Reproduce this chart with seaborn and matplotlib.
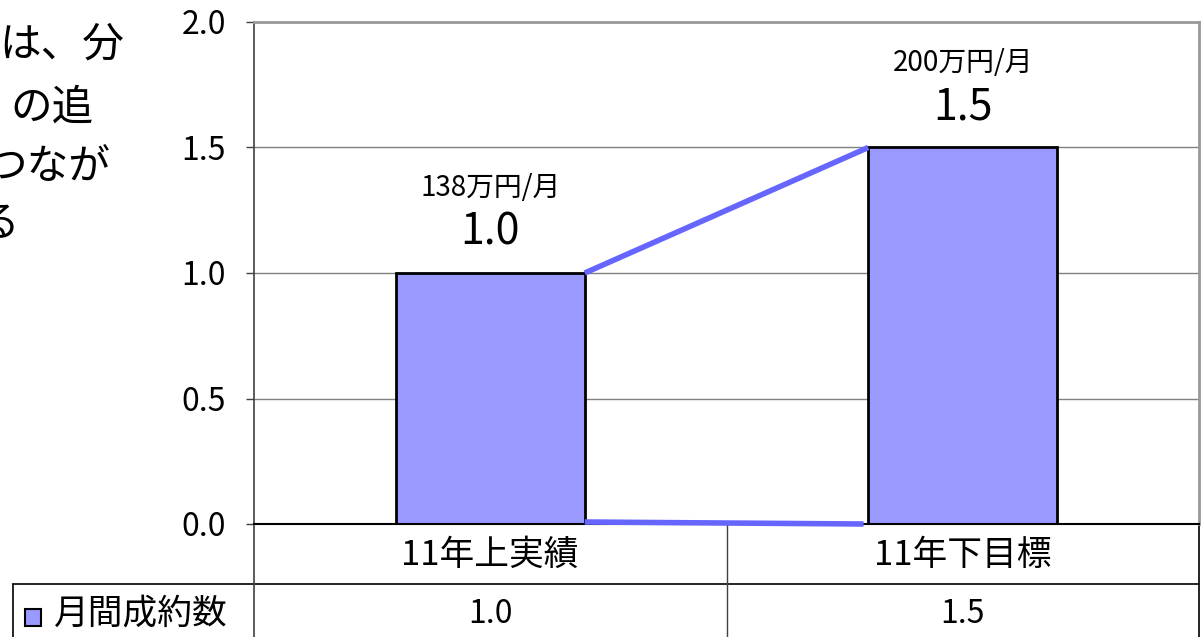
import matplotlib
matplotlib.use("Agg")
import matplotlib.pyplot as plt
import seaborn as sns
import pandas as pd

categories = ["11年上実績", "11年下目標"]
values = [1.0, 1.5]
amount_labels = ["138万円/月", "200万円/月"]
series_name = "月間成約数"
yticks = [0.0, 0.5, 1.0, 1.5, 2.0]
side_text = ["は、分", "の追", "つなが", "る"]

sns.set_style("white")
plt.rcParams["font.family"] = ["Noto Sans CJK JP", "DejaVu Sans"]
plt.rcParams["text.color"] = "black"
plt.rcParams["ytick.color"] = "black"
plt.rcParams["ytick.labelcolor"] = "black"

W, H = 1201, 637
fig = plt.figure(figsize=(W / 100, H / 100), dpi=100)
L, R, T, B = 254, 1199, 22, 524
ax = fig.add_axes([L / W, 1 - B / H, (R - L) / W, (B - T) / H])

df = pd.DataFrame({"cat": categories, "val": values})
bar_w = 0.4
bar_color = "#9999FF"
line_color = "#6666FF"
sns.barplot(data=df, x="cat", y="val", color=bar_color, width=bar_w,
            edgecolor="black", linewidth=2, saturation=1, ax=ax, zorder=2)

ax.set_xlim(-0.5, 1.5)
ax.set_ylim(0, 2.0)
ax.set_yticks(yticks)
ax.set_yticklabels([f"{v:.1f}" for v in yticks], fontsize=23, color="black")
ax.tick_params(axis="y", left=True, length=6, width=1, pad=14, color="#404040")
ax.tick_params(axis="x", bottom=False, labelbottom=False)
ax.set_xlabel("")
ax.set_ylabel("")
ax.yaxis.grid(True, color="#808080", lw=1)
ax.set_axisbelow(True)
for side in ["top", "right"]:
    ax.spines[side].set_color("#999999")
    ax.spines[side].set_linewidth(2)
ax.spines["left"].set_color("#404040")
ax.spines["left"].set_linewidth(1.2)
ax.spines["bottom"].set_color("black")
ax.spines["bottom"].set_linewidth(1.5)

# connector lines between bars
xs = list(range(len(categories)))
ax.plot([xs[0] + bar_w / 2, xs[1] - bar_w / 2], [values[0], values[1]],
        color=line_color, lw=4, solid_capstyle="butt", zorder=3, clip_on=False)
ax.plot([xs[0] + bar_w / 2, xs[1] - bar_w / 2 - 0.01], [0.008, 0.0],
        color=line_color, lw=4, solid_capstyle="butt", zorder=3, clip_on=False)

# value labels
for x, v, lab in zip(xs, values, amount_labels):
    ax.annotate(f"{v:.1f}", (x, v), xytext=(0, 29), textcoords="offset points",
                ha="center", va="center", fontsize=31, color="black")
    ax.annotate(lab, (x, v), xytext=(0, 61), textcoords="offset points",
                ha="center", va="center", fontsize=20, color="black")

# data table below axes
trans = ax.get_xaxis_transform()
axw = R - L
axh = B - T
def ay(py):
    return (B - py) / axh
def axx(px):
    return (px - L) / axw

row1_c, row_line, row2_c, bottom = ay(555), ay(584), ay(614), ay(H + 5)
for x, c, v in zip(xs, categories, values):
    ax.text(x, row1_c, c, transform=trans, ha="center", va="center", fontsize=25, color="black")
    ax.text(x, row2_c, f"{v:.1f}", transform=trans, ha="center", va="center", fontsize=23, color="black")

tr = ax.transAxes
lk = dict(color="black", lw=1.2, transform=tr, clip_on=False)
ax.plot([axx(13), 1.0], [row_line, row_line], **lk)
ax.plot([0, 0], [0, bottom], color="#404040", lw=1.2, transform=tr, clip_on=False)
ax.plot([0.5, 0.5], [0, bottom], color="#404040", lw=1, transform=tr, clip_on=False)
ax.plot([1.0, 1.0], [0, bottom], **lk)
ax.plot([axx(13), axx(13)], [row_line, bottom], **lk)

# legend key inside table
ax.add_patch(plt.Rectangle((axx(25), ay(626)), 16 / axw, 17 / axh, transform=tr,
                           facecolor=bar_color, edgecolor="black", lw=1.5, clip_on=False))
ax.text(axx(54), row2_c, series_name, transform=tr, ha="left", va="center", fontsize=25, color="black")

# cropped side text at left edge (cut off in the reference too)
side_y = [45, 108, 168, 225]
side_x = [124, 94, 111, 19]
for s, px, py in zip(side_text, side_x, side_y):
    fig.text(px / W, 1 - py / H, s, ha="right", va="center", fontsize=30, color="black")

fig.savefig("out.png", dpi=100)
